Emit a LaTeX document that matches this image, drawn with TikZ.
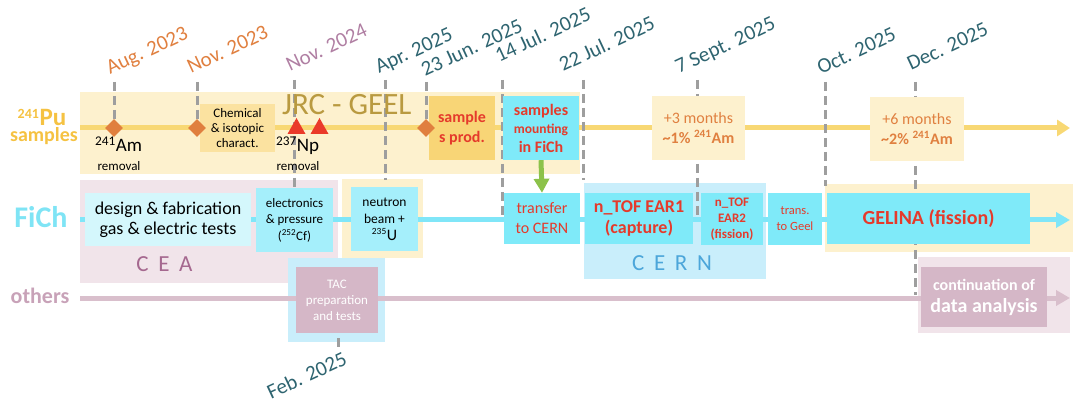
\documentclass[tikz,border=0pt]{standalone}
\usepackage{fontspec}
\setmainfont{Carlito}
\usetikzlibrary{arrows.meta,shapes.geometric}

\definecolor{bandY}{HTML}{FDF1CE}
\definecolor{bandP}{HTML}{F1E4EA}
\definecolor{bandB}{HTML}{C9EEFB}
\definecolor{chemY}{HTML}{FBE2A0}
\definecolor{prodY}{HTML}{F8D576}
\definecolor{cyanA}{HTML}{7FEAF9}
\definecolor{cyanB}{HTML}{A5EFFB}
\definecolor{cyanC}{HTML}{D4F7FC}
\definecolor{mauveBox}{HTML}{D5B7C7}
\definecolor{puLine}{HTML}{F8D874}
\definecolor{fichLine}{HTML}{80E6F8}
\definecolor{othLine}{HTML}{D9BFCC}
\definecolor{arrGreen}{HTML}{8CC24A}
\definecolor{cutGrey}{HTML}{9E9E9E}
\definecolor{gemOrange}{HTML}{E07F3F}
\definecolor{triRed}{HTML}{EA3A2A}
\definecolor{redT}{HTML}{E53A2B}
\definecolor{orangeT}{HTML}{E08040}
\definecolor{tealT}{HTML}{2E6470}
\definecolor{purpleT}{HTML}{B07FA3}
\definecolor{jrcT}{HTML}{B99A40}
\definecolor{puT}{HTML}{F5C242}
\definecolor{fichT}{HTML}{7FE4F5}
\definecolor{othT}{HTML}{C8A2B8}
\definecolor{ceaT}{HTML}{A5688F}
\definecolor{cernT}{HTML}{4CA6DA}

\newcommand\fsz[2]{\fontsize{#1}{#2}\selectfont}

\begin{document}
\begin{tikzpicture}[x=1pt,y=-1pt,
  blk/.style 2 args={minimum width=#1,minimum height=#2,inner sep=0,align=center},
  tline/.style={draw=#1,line width=5pt},
  datecut/.style={draw=cutGrey,line width=3pt,dash pattern=on 9pt off 5pt},
  date/.style={rotate=25,anchor=base west,inner sep=0,text=#1,font=\fsz{21}{24}},
  gem/.style={diamond,fill=gemOrange,inner sep=0,minimum size=18pt},
  row/.style={anchor=base,inner sep=0,font=\bfseries\fsz{#1}{#1}}]
\useasboundingbox (0,0) rectangle (1073,403);

% bands
\fill[bandY] (80,92) rectangle (580,174);
\fill[bandP] (80,180) rectangle (338,283);
\fill[bandY] (342,179) rectangle (423,258);
\fill[bandB] (584,183) rectangle (766,279);
\fill[bandY] (825,184) rectangle (1073,252);
\fill[bandB] (288,258) rectangle (385,342);
\fill[bandP] (918,257) rectangle (1070,333);

% time lines
\coordinate (puS) at (80,128);   \coordinate (puE) at (1070,128);
\coordinate (fiS) at (80,220);   \coordinate (fiE) at (1070,220);
\coordinate (otS) at (80,298);   \coordinate (otE) at (1070,298);
\draw[tline=puLine,-{Triangle[length=13pt,width=16pt]}] (puS) -- (puE);
\draw[tline=fichLine,-{Triangle[length=14pt,width=15pt]}] (fiS) -- (fiE);
\draw[tline=othLine,-{Triangle[length=14pt,width=15pt]}] (otS) -- (otE);

% date marks
\foreach \x/\a/\b in {114/82/122,197/82/122,294/80/190,385/80/180,426/82/122,
    502/80/217,583/80/180,697/80/215,825/82/186,915/82/295,338/338/349}
  \draw[datecut] (\x,\a) -- (\x,\b);

\node[date=orangeT] (dAug) at (110,75) {Aug. 2023};
\node[date=orangeT] (dNov) at (191,74) {Nov. 2023};
\node[date=purpleT] (dNovb) at (290,72) {Nov. 2024};
\node[date=tealT] (dApr) at (379,74) {Apr. 2025};
\node[date=tealT] (dJun) at (425,77) {23 Jun. 2025};
\node[date=tealT] (dJul) at (499,63) {14 Jul. 2025};
\node[date=tealT] (dJulb) at (563,72) {22 Jul. 2025};
\node[date=tealT] (dSep) at (679,74) {7 Sept. 2025};
\node[date=tealT] (dOct) at (821,75) {Oct. 2025};
\node[date=tealT] (dDec) at (911,71) {Dec. 2025};
\node[date=tealT] (dFeb) at (271,400) {Feb. 2025};

% row names
\node[row=25,text=puT] (puA) at (42,126) {{\fsz{20}{20}\textsuperscript{241}}Pu};
\node[row=20,text=puT] (puB) at (44,142) {samples};
\node[row=30,text=fichT] (fich) at (41,228) {FiCh};
\node[row=22,text=othT] (oth) at (40,303) {others};

% Pu samples
\node[anchor=base west,inner sep=0,text=jrcT,font=\fsz{31}{31}] (jrc) at (282,115) {JRC - GEEL};
\node[blk={75}{48},fill=chemY,font=\fsz{13}{15}] (chem) at (237.5,128) {Chemical\\\& isotopic\\charact.};
\node[blk={66}{64},fill=prodY,text=redT,font=\bfseries\fsz{16}{20}] (prod) at (462,128) {sample\\s prod.};
\node[blk={76}{64},fill=cyanA,text=redT,font=\bfseries\fsz{16}{18.5}] (mount) at (541,128)
  {samples\\{\fsz{13.5}{19}mounting}\\in FiCh};
\node[blk={93}{64},fill=bandY,text=orangeT,font=\fsz{16}{20}] (plus3) at (698.5,128)
  {+3 months\\\textbf{\textasciitilde1\% \textsuperscript{241}Am}};
\node[blk={94}{64},fill=bandY,text=orangeT,font=\fsz{16}{20}] (plus6) at (917,129)
  {+6 months\\\textbf{\textasciitilde2\% \textsuperscript{241}Am}};
\node[gem] (gAug) at (114,128) {};
\node[gem] (gNov) at (197,128) {};
\node[gem] (gJun) at (426,128) {};
\foreach \x in {296.5,319.5}
  \fill[triRed] (\x-9,134) -- (\x,118) -- (\x+9,134) -- cycle;
\node[anchor=base west,inner sep=0,font=\fsz{19}{19}] (am) at (95,152) {\textsuperscript{241}Am};
\node[anchor=base,inner sep=0,font=\fsz{13}{13}] (amR) at (119,171) {removal};
\node[anchor=base west,inner sep=0,font=\fsz{19}{19}] (np) at (276,152) {\textsuperscript{237}Np};
\node[anchor=base,inner sep=0,font=\fsz{13}{13}] (npR) at (298,171) {removal};

% FiCh
\node[blk={166}{53},fill=cyanC,font=\fsz{18}{20}] (design) at (168,219.5)
  {design \& fabrication\\gas \& electric tests};
\node[blk={77}{64},fill=cyanB,font=\fsz{13}{16.5}] (elec) at (294.5,220)
  {electronics\\\& pressure\\(\textsuperscript{252}Cf)};
\node[blk={67}{64},fill=cyanB,font=\fsz{13.5}{17}] (beam) at (384.5,219)
  {neutron\\beam +\\\textsuperscript{235}{\fsz{16}{17}U}};
\node[blk={76}{51},fill=cyanA,text=redT,font=\fsz{16}{20}] (xfer) at (542,218.5) {transfer\\to CERN};
\node[blk={108}{51},fill=cyanA,text=redT,font=\bfseries\fsz{18}{21}] (ear1) at (639,218.5)
  {n\_TOF EAR1\\(capture)};
\node[blk={62}{52},fill=cyanA,text=redT,font=\bfseries\fsz{13}{16}] (ear2) at (732,219)
  {n\_TOF\\EAR2\\(fission)};
\node[blk={54}{52},fill=cyanA,text=redT,font=\fsz{12.5}{16}] (toGeel) at (795,219) {trans.\\to Geel};
\node[blk={203}{51},fill=cyanA,text=redT,font=\bfseries\fsz{20}{24}] (gelina) at (928.5,218.5)
  {GELINA (fission)};
\draw[line width=5pt,draw=arrGreen,-{Triangle[length=14pt,width=15pt]}] (mount.south) -- (xfer.north);
\node[anchor=base,inner sep=0,text=ceaT,font=\fsz{23}{23}] (cea) at (164.5,272)
  {C\hspace{0.42em}E\hspace{0.42em}A};
\node[anchor=base,inner sep=0,text=cernT,font=\fsz{23}{23}] (cern) at (672,271)
  {C\hspace{0.42em}E\hspace{0.42em}R\hspace{0.42em}N};

% others
\node[blk={82}{66},fill=mauveBox,text=white,font=\fsz{13}{16}] (tac) at (337,300)
  {TAC\\preparation\\and tests};
\node[blk={126}{60},fill=mauveBox,text=white,font=\bfseries\fsz{16}{22}] (cont) at (984,297)
  {continuation of\\{\fsz{20}{22}data analysis}};
\end{tikzpicture}
\end{document}
